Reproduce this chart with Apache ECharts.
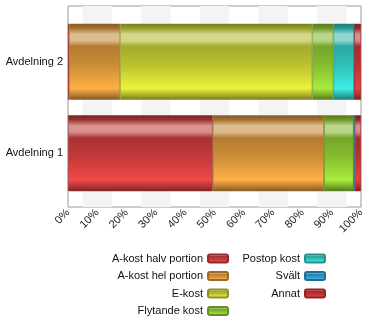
<!DOCTYPE html>
<html><head><meta charset="utf-8">
<script src="https://cdn.jsdelivr.net/npm/echarts@6/dist/echarts.min.js"></script>
<style>html,body{margin:0;padding:0;background:#fff}#c{width:371px;height:325px}</style>
</head><body><div id="c"></div>
<script>
const categories = ['Avdelning 1', 'Avdelning 2'];
const seriesNames = ['A-kost halv portion', 'A-kost hel portion', 'E-kost', 'Flytande kost', 'Postop kost', 'Svält', 'Annat'];
const aKostHalv = [49.4, 0.4];
const aKostHel = [38.0, 17.4];
const eKost = [0, 65.6];
const flytande = [10.1, 7.2];
const postop = [0, 7.1];
const svalt = [0.4, 0];
const annat = [2.1, 2.3];
const xTicks = [0, 10, 20, 30, 40, 50, 60, 70, 80, 90, 100];

const values = [aKostHalv, aKostHel, eKost, flytande, postop, svalt, annat];
const baseColors = ['#f24848', '#ffb046', '#eaf43c', '#a8ec3c', '#3cf0e6', '#3cb4ee', '#f03c3c'];

function hexToRgb(h){h=h.replace('#','');return [parseInt(h.substr(0,2),16),parseInt(h.substr(2,2),16),parseInt(h.substr(4,2),16)];}
function mixA(c, t, f){return c.map((v,i)=>Math.round(v+(t[i]-v)*f));}
function css(c){return 'rgb('+c.join(',')+')';}
function darkA(c,f){return mixA(c,[0,0,0],f);}
function lightA(c,f){return mixA(c,[225,225,215],f);}
function gloss(h){
  const c = hexToRgb(h);
  return new echarts.graphic.LinearGradient(0,0,0,1,[
    {offset:0, color:css(darkA(c,0.5))},
    {offset:0.06, color:css(darkA(c,0.35))},
    {offset:0.14, color:css(lightA(darkA(c,0.15),0.55))},
    {offset:0.22, color:css(lightA(darkA(c,0.15),0.5))},
    {offset:0.30, color:css(darkA(c,0.3))},
    {offset:0.55, color:css(darkA(c,0.2))},
    {offset:0.85, color:css(c)},
    {offset:0.93, color:css(darkA(c,0.25))},
    {offset:1, color:css(darkA(c,0.5))}
  ]);
}

const bands = [[5,15],[25,35],[45,55],[65,75],[85,95]];
const FONT = 'Liberation Sans, Arial, sans-serif';

const series = seriesNames.map((name, i) => ({
  name: name,
  type: 'bar',
  stack: 'total',
  xAxisIndex: 1,
  yAxisIndex: 1,
  barCategoryGap: '17%',
  data: values[i],
  itemStyle: { color: gloss(baseColors[i]), borderColor: css(darkA(hexToRgb(baseColors[i]),0.4)), borderWidth: 0.6 },
  legendIcon: 'roundRect'
}));
series.unshift({
  type: 'line',
  xAxisIndex: 0,
  yAxisIndex: 0,
  data: [],
  silent: true,
  markArea: {
    silent: true,
    itemStyle: { color: '#f4f4f4' },
    label: { show: false },
    data: bands.map(b => [{ xAxis: b[0] }, { xAxis: b[1] }])
  }
});

const chart = echarts.init(document.getElementById('c'), null, { renderer: 'canvas' });
const legendCommon = {
  orient: 'vertical',
  align: 'right',
  itemWidth: 20,
  itemHeight: 8,
  itemGap: 6.5,
  textStyle: { fontFamily: FONT, fontSize: 11, color: '#111' },
  selectedMode: false
};
chart.setOption({
  animation: false,
  backgroundColor: '#fff',
  textStyle: { fontFamily: FONT },
  grid: [
    { left: 68, right: 10, top: 6, bottom: 118, show: true, borderColor: '#9a9a9a', borderWidth: 1, backgroundColor: 'transparent' },
    { left: 68, right: 10, top: 16, bottom: 126 }
  ],
  legend: [
    Object.assign({}, legendCommon, { data: seriesNames.slice(0, 4), right: 143, top: 248 }),
    Object.assign({}, legendCommon, { data: seriesNames.slice(4), right: 46, top: 248 })
  ].map((l, i) => Object.assign(l, { right: i === 0 ? 137 : 40 })),
  xAxis: [{
    type: 'value', gridIndex: 0,
    min: xTicks[0], max: xTicks[xTicks.length - 1], interval: xTicks[1] - xTicks[0],
    axisLine: { show: false }, axisTick: { show: false }, splitLine: { show: false },
    axisLabel: { formatter: '{value}%', rotate: 45, fontSize: 11, color: '#222', margin: 4, fontFamily: FONT }
  }, {
    type: 'value', gridIndex: 1,
    min: xTicks[0], max: xTicks[xTicks.length - 1], interval: xTicks[1] - xTicks[0],
    show: false
  }],
  yAxis: [{
    type: 'category', gridIndex: 0, data: categories, show: false
  }, {
    type: 'category', gridIndex: 1,
    data: categories,
    axisLine: { show: false }, axisTick: { show: false }, splitLine: { show: false },
    axisLabel: { fontSize: 11, color: '#111', margin: 5, fontFamily: FONT }
  }],
  series: series
});
</script>
</body></html>
